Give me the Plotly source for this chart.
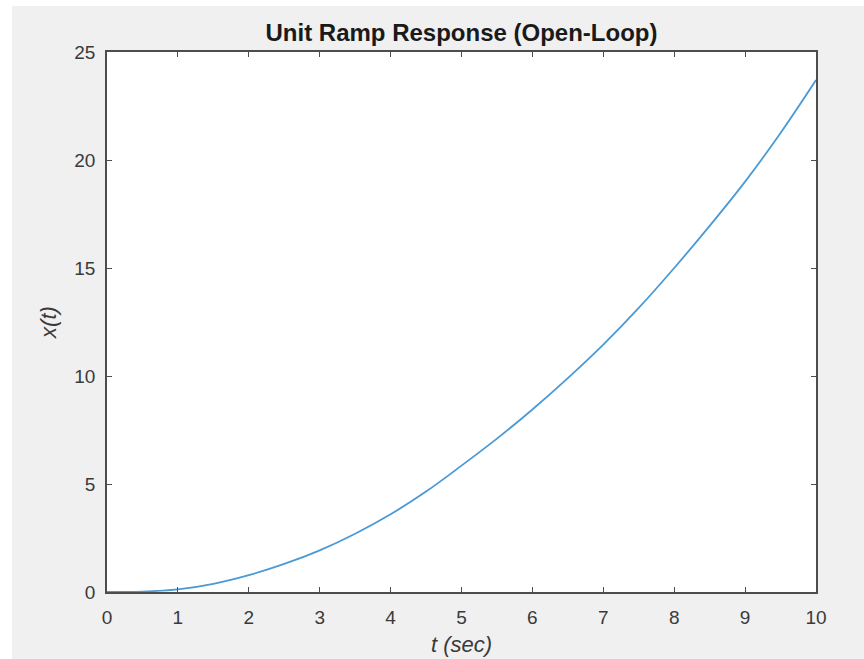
import plotly.graph_objects as go

# Time samples (s) and open-loop unit ramp response x(t)
t_sec = [0, 0.5, 1, 1.5, 2, 2.5, 3, 3.5, 4, 4.5, 5,
         5.5, 6, 6.5, 7, 7.5, 8, 8.5, 9, 9.5, 10]
x_resp = [0, 0.02, 0.12, 0.38, 0.78, 1.3, 1.93, 2.7, 3.6, 4.65, 5.85,
          7.1, 8.45, 9.9, 11.45, 13.15, 15.0, 16.95, 19.0, 21.25, 23.7]

x_ticks = list(range(0, 11))
y_ticks = [0, 5, 10, 15, 20, 25]

FONT = "Liberation Sans, Arial, sans-serif"
AXIS_COL = "#4d4d4d"
TEXT_COL = "#3a3a3a"

fig = go.Figure()
fig.add_trace(go.Scatter(
    x=t_sec, y=x_resp, mode="lines", line_shape="spline",
    line=dict(color="#4a9ad6", width=1.8), showlegend=False,
))

axis_common = dict(
    showline=True, linecolor=AXIS_COL, linewidth=1.5, mirror="ticks",
    ticks="inside", ticklen=5, tickwidth=1, tickcolor=AXIS_COL,
    showgrid=False, zeroline=False, automargin=False,
    tickfont=dict(family=FONT, size=19, color=TEXT_COL),
)

fig.update_xaxes(
    range=[0, 10], tickvals=x_ticks, ticktext=[str(v) for v in x_ticks],
    ticklabelstandoff=7,
    title=dict(text="<i>t (sec)</i>", font=dict(family=FONT, size=22, color=TEXT_COL), standoff=10),
    **axis_common,
)
fig.update_yaxes(
    range=[0, 25], tickvals=y_ticks, ticktext=[str(v) for v in y_ticks],
    ticklabelstandoff=6,
    title=dict(text="<i>x(t)</i>", font=dict(family=FONT, size=22, color=TEXT_COL), standoff=12),
    **axis_common,
)

fig.update_layout(
    width=864, height=659,
    margin=dict(l=107, r=48, t=52, b=67),
    paper_bgcolor="#f0f0f0", plot_bgcolor="white",
    title=dict(text="<b>Unit Ramp Response (Open-Loop)</b>",
               font=dict(family=FONT, size=24, color="#1a1a1a"),
               x=0.5, xref="paper", xanchor="center",
               y=1 - 33 / 659, yanchor="middle"),
    shapes=[
        # white strips along the left and top edges of the figure
        dict(type="rect", xref="paper", yref="paper",
             x0=-107 / 709, x1=-95 / 709, y0=-67 / 540, y1=592 / 540,
             fillcolor="white", line_width=0, layer="below"),
        dict(type="rect", xref="paper", yref="paper",
             x0=-107 / 709, x1=757 / 709, y0=586 / 540, y1=592 / 540,
             fillcolor="white", line_width=0, layer="below"),
    ],
)

fig.write_html("out.html")
